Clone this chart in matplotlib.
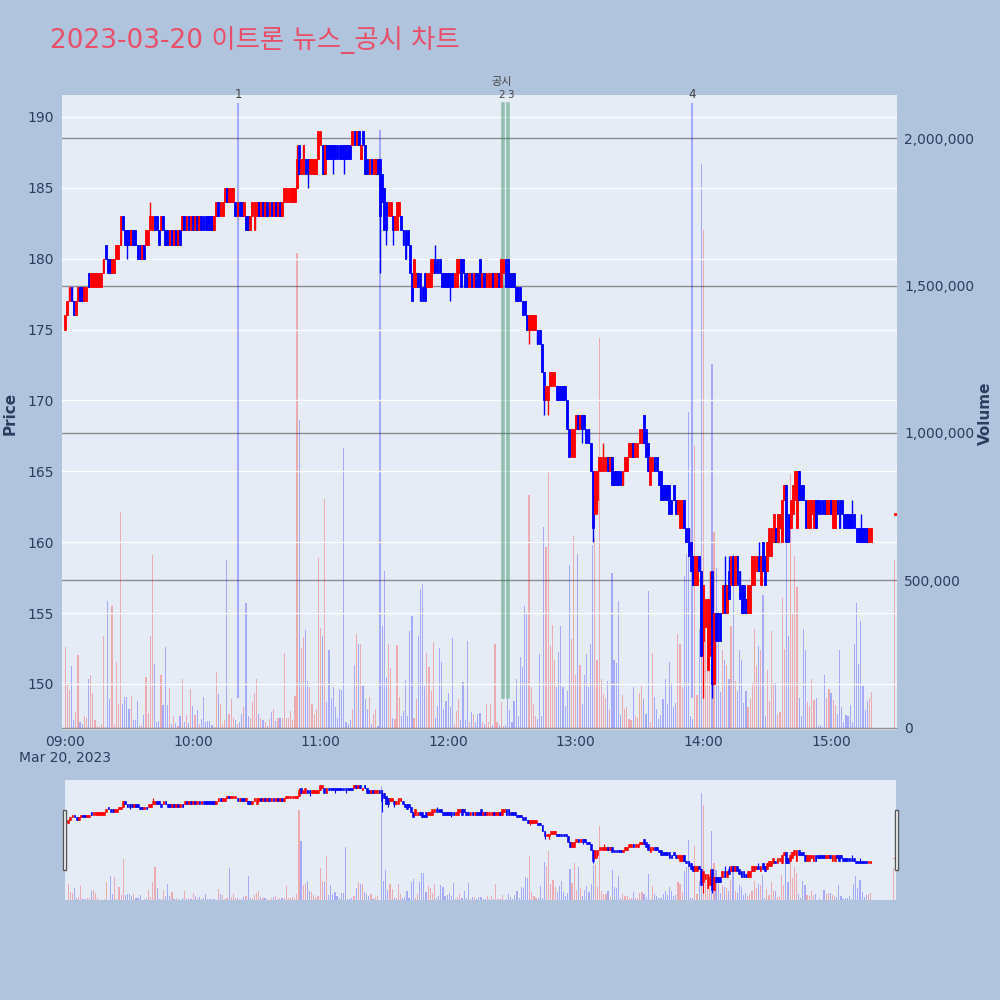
"""2023-03-20 이트론 뉴스_공시 차트 - minute candles with volume and news markers."""

import pandas as pd
import matplotlib
matplotlib.use("Agg")
import matplotlib.pyplot as plt
import matplotlib.transforms as mtransforms
from matplotlib.patches import Rectangle

plt.rcParams["font.family"] = ["DejaVu Sans", "Noto Sans CJK KR"]

# ---- data (1-minute bars from 09:00) ----
opens = [
    175, 176, 177, 178, 177, 176, 177, 178, 178, 177, 177, 179, 178, 178, 178, 178, 178, 178, 179, 181,
    180, 180, 179, 179, 180, 180, 181, 183, 182, 182, 182, 181, 182, 182, 181, 181, 180, 181, 181, 181,
    182, 182, 183, 183, 182, 182, 183, 182, 182, 181, 182, 181, 182, 181, 182, 182, 183, 182, 183, 182,
    183, 182, 183, 182, 183, 183, 183, 183, 183, 183, 182, 183, 184, 183, 183, 184, 185, 184, 184, 184,
    184, 183, 184, 184, 183, 183, 183, 182, 183, 182, 183, 184, 183, 184, 183, 184, 183, 184, 183, 184,
    183, 184, 183, 184, 184, 184, 184, 184, 184, 185, 188, 186, 186, 187, 187, 186, 186, 186, 186, 187,
    188, 188, 186, 188, 188, 188, 188, 188, 188, 188, 188, 188, 188, 188, 188, 188, 189, 188, 189, 187,
    189, 188, 187, 186, 187, 186, 186, 187, 187, 186, 185, 184, 183, 183, 183, 182, 182, 183, 183, 182,
    182, 182, 181, 179, 178, 178, 179, 179, 178, 179, 178, 178, 178, 179, 180, 180, 180, 179, 179, 179,
    179, 179, 179, 178, 178, 179, 180, 180, 179, 179, 178, 179, 178, 179, 179, 180, 178, 179, 178, 178,
    178, 179, 178, 178, 179, 178, 179, 180, 180, 179, 179, 179, 178, 178, 178, 177, 177, 176, 175, 175,
    175, 175, 175, 175, 174, 172, 170, 170, 171, 171, 171, 171, 171, 171, 171, 171, 170, 168, 166, 166,
    168, 169, 168, 169, 169, 168, 168, 167, 165, 162, 163, 165, 165, 165, 165, 166, 165, 166, 165, 165,
    165, 165, 164, 165, 165, 166, 166, 167, 166, 166, 167, 167, 169, 168, 167, 164, 165, 166, 166, 165,
    165, 164, 164, 164, 164, 163, 164, 163, 162, 161, 161, 163, 161, 161, 160, 159, 157, 157, 159, 158,
    153, 154, 151, 152, 158, 150, 155, 155, 155, 155, 157, 155, 158, 157, 159, 157, 159, 158, 157, 157,
    156, 155, 155, 157, 157, 158, 159, 157, 160, 159, 158, 159, 159, 160, 161, 160, 161, 160, 163, 164,
    162, 161, 162, 163, 161, 165, 164, 164, 163, 161, 161, 162, 161, 163, 163, 163, 163, 163, 162, 162,
    163, 161, 161, 163, 163, 163, 162, 162, 162, 162, 162, 162, 161, 161, 161, 161, 161, 161, 160, 160,
    162,
]
closes = [
    176, 177, 178, 177, 176, 177, 178, 177, 177, 178, 178, 178, 179, 179, 179, 179, 179, 179, 180, 180,
    179, 179, 180, 180, 181, 181, 183, 182, 181, 181, 181, 182, 181, 181, 180, 180, 181, 180, 182, 182,
    183, 183, 182, 182, 181, 183, 182, 181, 181, 182, 181, 182, 181, 182, 181, 183, 182, 183, 182, 183,
    182, 183, 182, 183, 182, 182, 182, 182, 182, 182, 183, 184, 183, 184, 184, 185, 184, 185, 185, 185,
    183, 184, 183, 183, 184, 182, 182, 183, 184, 184, 184, 183, 184, 183, 184, 183, 184, 183, 184, 183,
    184, 183, 184, 185, 185, 185, 185, 185, 185, 187, 186, 187, 188, 186, 186, 187, 187, 187, 187, 189,
    189, 186, 188, 187, 187, 187, 187, 187, 187, 187, 187, 187, 187, 187, 187, 189, 188, 189, 188, 188,
    188, 186, 186, 187, 186, 187, 187, 186, 183, 184, 182, 182, 184, 184, 182, 183, 184, 184, 182, 181,
    180, 181, 179, 177, 180, 179, 178, 177, 177, 177, 179, 179, 180, 180, 179, 179, 179, 178, 178, 178,
    178, 178, 178, 179, 180, 180, 178, 179, 178, 178, 179, 178, 179, 178, 178, 178, 179, 178, 179, 179,
    179, 178, 179, 179, 178, 180, 180, 178, 178, 178, 178, 178, 177, 177, 177, 176, 176, 175, 176, 176,
    176, 176, 174, 174, 172, 170, 171, 171, 172, 172, 172, 170, 170, 170, 170, 170, 168, 166, 168, 168,
    169, 168, 169, 168, 168, 167, 167, 165, 161, 165, 165, 166, 166, 166, 166, 165, 166, 164, 164, 164,
    164, 164, 165, 166, 166, 167, 167, 166, 167, 167, 168, 168, 167, 166, 165, 166, 166, 165, 165, 164,
    163, 163, 163, 163, 162, 162, 163, 162, 163, 163, 163, 161, 160, 159, 158, 157, 159, 159, 158, 152,
    157, 156, 156, 155, 150, 155, 153, 153, 153, 157, 155, 157, 156, 159, 157, 159, 157, 156, 155, 155,
    155, 157, 157, 159, 159, 159, 158, 159, 158, 157, 160, 161, 161, 162, 160, 162, 162, 163, 164, 160,
    160, 163, 164, 165, 165, 163, 163, 163, 161, 163, 163, 163, 163, 161, 162, 162, 162, 162, 163, 163,
    162, 163, 163, 162, 161, 162, 161, 161, 161, 161, 161, 161, 160, 160, 160, 160, 160, 160, 161, 161,
    162,
]
# wick extremes where they go beyond the body
wick_high = {40: 184, 109: 188, 174: 181, 253: 167, 272: 169, 303: 158,
             310: 159, 312: 159, 326: 160, 370: 163, 374: 162}
wick_low = {29: 180, 114: 185, 126: 186, 131: 186, 148: 179, 151: 181, 154: 181,
            181: 177, 218: 174, 225: 169, 227: 169, 243: 167, 248: 160, 250: 162,
            300: 149, 302: 151, 304: 149}
volumes_k = [
    276, 147, 129, 209, 28, 55, 248, 20, 14, 39, 35, 165, 181, 119, 28, 7, 2, 14, 313, 3,
    431, 98, 414, 14, 224, 82, 733, 82, 105, 105, 63, 109, 28, 28, 91, 7, 10, 44, 174, 52,
    313, 586, 216, 20, 25, 181, 77, 276, 77, 137, 15, 39, 17, 7, 39, 165, 20, 44, 17, 133,
    74, 44, 60, 14, 31, 105, 20, 25, 25, 10, 2, 188, 115, 82, 14, 28, 569, 48, 98, 35,
    28, 14, 20, 48, 70, 425, 39, 35, 88, 119, 165, 48, 35, 28, 20, 7, 31, 55, 63, 25,
    35, 35, 35, 255, 35, 35, 58, 28, 108, 1609, 1045, 272, 309, 331, 158, 140, 82, 48, 63, 576,
    340, 313, 775, 88, 265, 101, 140, 70, 35, 133, 129, 950, 20, 14, 28, 63, 212, 318, 286, 286,
    143, 98, 63, 105, 14, 48, 63, 5, 2027, 345, 531, 172, 286, 202, 35, 31, 282, 105, 42, 58,
    162, 42, 327, 378, 35, 98, 313, 472, 489, 143, 254, 206, 126, 290, 35, 74, 272, 224, 63, 91,
    119, 70, 306, 14, 58, 98, 28, 157, 28, 296, 20, 55, 48, 20, 48, 52, 20, 14, 80, 20,
    80, 10, 286, 20, 10, 87, 5, 10, 98, 60, 20, 90, 165, 40, 240, 208, 413, 385, 789, 140,
    80, 40, 30, 250, 40, 680, 612, 870, 278, 349, 229, 140, 257, 345, 140, 75, 125, 553, 300, 652,
    180, 591, 215, 80, 180, 250, 140, 285, 620, 643, 230, 1321, 165, 115, 100, 160, 60, 526, 230, 220,
    430, 44, 111, 63, 70, 31, 28, 140, 39, 35, 119, 143, 98, 48, 465, 20, 254, 105, 63, 31,
    44, 98, 167, 82, 224, 154, 70, 84, 318, 286, 140, 514, 590, 1071, 42, 30, 955, 111, 335, 1911,
    1688, 347, 291, 437, 1235, 663, 542, 396, 123, 264, 229, 215, 167, 347, 590, 160, 126, 264, 229, 84,
    126, 70, 98, 154, 334, 209, 278, 264, 452, 42, 195, 91, 327, 154, 154, 48, 55, 440, 268, 659,
    313, 860, 387, 583, 479, 101, 42, 334, 264, 88, 75, 165, 95, 101, 7, 11, 3, 181, 101, 133,
    119, 95, 77, 48, 264, 70, 20, 44, 39, 77, 20, 286, 422, 216, 362, 143, 60, 91, 101, 123,
    570,
]
times = list(pd.date_range("2023-03-20 09:00", periods=380, freq="min")) + [pd.Timestamp("2023-03-20 15:30")]

# news / disclosure markers
news_times = ["2023-03-20 10:21:12", "2023-03-20 13:54:48"]
news_labels = ["1", "4"]
disc_times = ["2023-03-20 12:25:36", "2023-03-20 12:28:12"]
disc_labels = ["2", "3"]

# ---- prep ----
t0 = pd.Timestamp("2023-03-20 09:00")
x = [(t - t0).total_seconds() / 60 for t in times]
highs = [max(o, c) for o, c in zip(opens, closes)]
lows = [min(o, c) for o, c in zip(opens, closes)]
for k, v in wick_high.items():
    highs[k] = v
for k, v in wick_low.items():
    lows[k] = v
up = [c >= o for o, c in zip(opens, closes)]
col = ["#ff0000" if u else "#0000ff" for u in up]
vol = [v * 1000 for v in volumes_k]
body_h = [c - o if c != o else 0.12 for o, c in zip(opens, closes)]
body_b = [o if c != o else o - 0.06 for o, c in zip(opens, closes)]

BG = "#b0c4de"
PLOT_BG = "#e5ecf6"
TXT = "#2a3f5f"
XLIM = (-1.5, 391)

fig = plt.figure(figsize=(10, 10), dpi=100, facecolor=BG)

# ---- main chart: volume axis underneath, price axis on top ----
axv = fig.add_axes([0.062, 0.270, 0.835, 0.635])
axv.set_facecolor(PLOT_BG)
axp = axv.twinx()
axp.patch.set_visible(False)

axv.bar(x, vol, width=0.55, color=col, alpha=0.28, linewidth=0, zorder=2)
axv.set_ylim(-7000, 2146000)
axv.set_yticks([0, 500000, 1000000, 1500000, 2000000])
axv.set_yticklabels([f"{v:,}" for v in [0, 500000, 1000000, 1500000, 2000000]])
axv.yaxis.tick_right()
axv.grid(axis="y", color="#8c8c8c", linewidth=1)
axv.set_axisbelow(True)

axp.vlines(x, lows, highs, colors=col, linewidth=1, zorder=3)
axp.bar(x, body_h, bottom=body_b, width=0.85, color=col, edgecolor=col, linewidth=0.6, zorder=4)
axp.set_ylim(146.75, 191.55)
axp.set_yticks(range(150, 191, 5))
axp.yaxis.tick_left()
axp.grid(axis="y", color="white", linewidth=1, zorder=0)

for a in (axv, axp):
    a.set_xlim(*XLIM)
    for s in a.spines.values():
        s.set_visible(False)
    a.tick_params(length=0, labelsize=10, labelcolor=TXT)
axv.tick_params(axis="y", pad=5)
axp.tick_params(axis="y", pad=6)

hour_ticks = [0, 60, 120, 180, 240, 300, 360]
hour_labels = ["09:00\nMar 20, 2023", "10:00", "11:00", "12:00", "13:00", "14:00", "15:00"]
axp.set_xticks(hour_ticks)
axp.set_xticklabels(hour_labels, linespacing=1.25, va="top")
axp.tick_params(axis="x", pad=5)
for lbl in axp.get_xticklabels():
    lbl.set_horizontalalignment("center")

# marker lines with their numbers just above the plot
trans = mtransforms.blended_transform_factory(axp.transData, axp.transAxes)
for tstr, lab in zip(news_times, news_labels):
    xm = (pd.Timestamp(tstr) - t0).total_seconds() / 60
    axp.axvline(xm, ymin=0.052, ymax=0.986, color="#0000ff", alpha=0.28, linewidth=1.5, zorder=2)
    axp.text(xm, 1.0, lab, transform=trans, ha="center", va="center", fontsize=8.5, color="#444444")
for tstr, lab, dx in zip(disc_times, disc_labels, [-0.6, 0.9]):
    xm = (pd.Timestamp(tstr) - t0).total_seconds() / 60
    axp.axvline(xm, ymin=0.052, ymax=0.986, color="#2e8b57", alpha=0.45, linewidth=2.6, zorder=2)
    axp.text(xm + dx, 1.0, lab, transform=trans, ha="center", va="center", fontsize=7.5, color="#444444")
xm = (pd.Timestamp(disc_times[0]) - t0).total_seconds() / 60
axp.text(xm - 0.5, 1.021, "공시", transform=trans, ha="center", va="center", fontsize=8, color="#444444")

# ---- range slider ----
axs_v = fig.add_axes([0.065, 0.100, 0.831, 0.120])
axs_v.set_facecolor(PLOT_BG)
axs_p = axs_v.twinx()
axs_p.patch.set_visible(False)
axs_v.bar(x, vol, width=0.55, color=col, alpha=0.28, linewidth=0)
axs_v.set_ylim(0, 2134000)
axs_p.vlines(x, lows, highs, colors=col, linewidth=0.8)
axs_p.bar(x, body_h, bottom=body_b, width=0.85, color=col, edgecolor=col, linewidth=0.4)
axs_p.set_ylim(146.4, 190.85)
for a in (axs_v, axs_p):
    a.set_xlim(*XLIM)
    a.set_xticks([])
    a.set_yticks([])
    for s in a.spines.values():
        s.set_visible(False)
for hx in (0.0625, 0.8945):
    fig.patches.append(Rectangle((hx, 0.130), 0.0035, 0.060, transform=fig.transFigure,
                                 facecolor="white", edgecolor="#555555", linewidth=1))

# ---- titles ----
fig.text(0.050, 0.960, "2023-03-20 이트론 뉴스_공시 차트", fontsize=19, color="#e8506a",
         ha="left", va="center", family=["DejaVu Sans", "Noto Sans CJK KR"])
fig.text(0.010, 0.587, "Price", rotation=90, ha="center", va="center",
         fontsize=11, fontweight="bold", color=TXT)
fig.text(0.985, 0.587, "Volume", rotation=90, ha="center", va="center",
         fontsize=11, fontweight="bold", color=TXT)

fig.savefig("out.png", dpi=100, facecolor=BG)
